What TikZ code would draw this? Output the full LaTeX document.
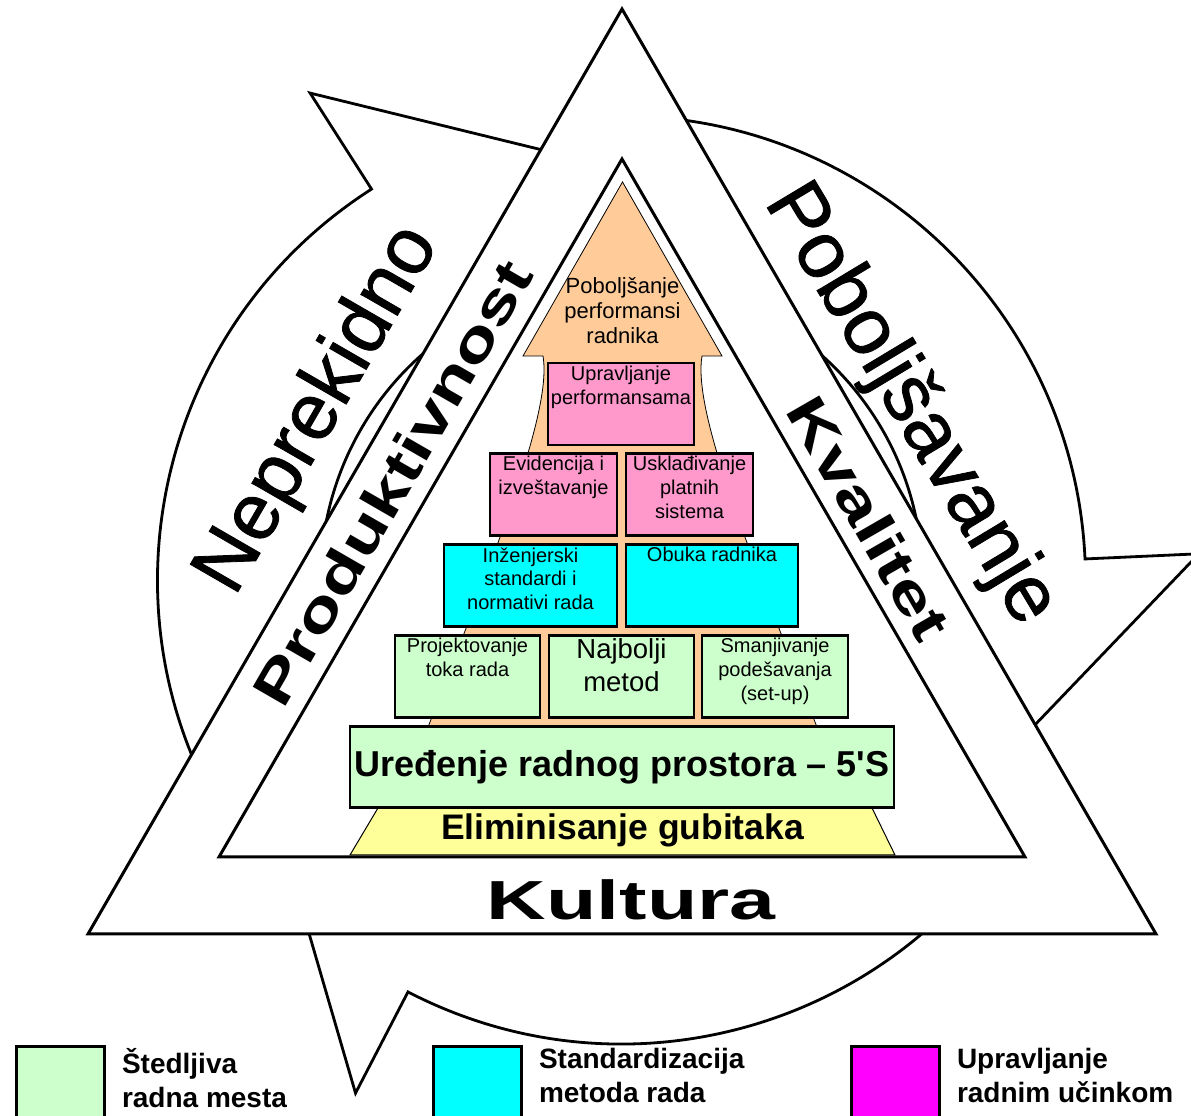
\documentclass[tikz,border=0pt]{standalone}
\usepackage{fontspec}
\setmainfont{Liberation Sans}
\newfontfamily\siroki{Liberation Sans}[FakeStretch=1.5]
\newfontfamily\srednji{Liberation Sans}[FakeStretch=1.36]
\newfontfamily\debeli{Liberation Sans}[FakeBold=1]
\usepackage{tikz}
\usetikzlibrary{positioning,calc}
\definecolor{zelena}{HTML}{CCFFCC}
\definecolor{cijan}{HTML}{00FFFF}
\definecolor{roze}{HTML}{FF99CC}
\definecolor{ljubicasta}{HTML}{FF00FF}
\definecolor{narandz}{HTML}{FFCC99}
\definecolor{zuta}{HTML}{FFFF99}
\tikzstyle{prsten}=[draw, fill=white, line width=2.8pt, line join=miter]
\tikzstyle{trougao}=[draw, fill=white, line width=3pt, line join=miter]
\tikzstyle{blok}=[draw, line width=2.6pt, outer sep=0pt, inner xsep=2pt, inner ysep=3pt,
font=\fontsize{20}{23.7}\selectfont]
\tikzstyle{zeleni}=[blok, fill=zelena]
\tikzstyle{plavi}=[blok, fill=cijan]
\tikzstyle{rozi}=[blok, fill=roze]
\tikzstyle{natpis}=[inner sep=0pt, font=\srednji\bfseries\fontsize{55}{55}\selectfont]
\tikzstyle{krupno}=[inner sep=0pt, font=\debeli\fontsize{80}{80}\selectfont]
\tikzstyle{legkutija}=[draw, line width=3pt, outer sep=0pt, minimum width=88pt,
minimum height=100pt, anchor=north west]
\tikzstyle{legtekst}=[inner sep=0pt, outer sep=0pt, anchor=north west, align=left,
font=\bfseries\fontsize{28}{34}\selectfont]
\newcommand{\kutija}[4]{node (#1)[#2]{\parbox[c][76pt][t]{#3}{\centering #4}}}
% one part of the circular arrow, head at angle #1
\newcommand{\strelica}[1]{%
	\draw[prsten] (#1+90:301) -- (#1+90:464)
	arc[start angle=#1+90, end angle=#1, radius=464]
	-- (#1:578) -- (#1-42:400) -- (#1:190) -- (#1:301)
	arc[start angle=#1, end angle=#1+90, radius=301] -- cycle;}
\begin{document}
\begin{tikzpicture}[x=1pt, y=1pt]
		\useasboundingbox (0,0) rectangle (1191,1116);
		
		% Circular arrow behind the triangle
		\begin{scope}[shift={(621.5,536)}]
			\strelica{122.6}
			\strelica{2.6}
			\strelica{-117.4}
		\end{scope}
		
		% Triangles
		\coordinate (A1) at (622,1107);
		\coordinate (B1) at (88,182);
		\coordinate (C1) at (1156,182);
		\draw[trougao] (A1) -- (B1) -- (C1) -- cycle;
		\coordinate (A2) at (622,957);
		\coordinate (B2) at (219,259);
		\coordinate (C2) at (1025,259);
		\draw[trougao] (A2) -- (B2) -- (C2) -- cycle;
		
		% Labels on the ring and on the triangle
		\node[krupno, rotate=60] (nepr) at (319,706) {Neprekidno};
		\node[krupno, rotate=-59] (pobo) at (910,711) {Poboljšavanje};
		\node[natpis, rotate=60] (prod) at (392,633) {Produktivnost};
		\node[natpis, rotate=-60] (kval) at (869,598) {Kvalitet};
		\node[inner sep=0pt, font=\siroki\bfseries\fontsize{55}{55}\selectfont] (kult) at (631,216) {Kultura};
		
		% Orange arrow
		\draw[fill=narandz, line width=0.8pt] (622.5,934) -- (722,760) -- (702,760)
		.. controls (693,706) and (745,576) .. (820,381) -- (820,350) -- (425,350) -- (425,381)
		.. controls (500,576) and (552,706) .. (543,760) -- (523,760) -- cycle;
		\node[align=center, inner sep=0pt, font=\fontsize{22}{25}\selectfont] (vrh) at (622.5,805)
		{Poboljšanje\\performansi\\radnika};
		
		% Boxes
		\path (621,712) \kutija{upr}{rozi}{142pt}{Upravljanje\\performansama};
		\path (upr.south)+(-67.5,-49.5) \kutija{evi}{rozi}{123pt}{Evidencija i\\izveštavanje};
		\path (upr.south)+(68.5,-49.5) \kutija{usk}{rozi}{123pt}{Usklađivanje\\platnih\\sistema};
		\path (evi.south)+(-23,-50) \kutija{inz}{plavi}{169pt}{Inženjerski\\standardi i\\normativi rada};
		\path (usk.south)+(22.5,-50) \kutija{obu}{plavi}{168pt}{Obuka radnika};
		\path (inz.south)+(-63,-50) \kutija{pro}{zeleni}{141pt}{Projektovanje\\toka rada};
		\path (inz.south)+(91,-50) \kutija{naj}{zeleni, font=\fontsize{27.5}{33.3}\selectfont}{141pt}{Najbolji\\metod};
		\path (obu.south)+(63,-50) \kutija{sma}{zeleni}{142pt}{Smanjivanje\\podešavanja\\(set-up)};
		
		% Base
		\draw[fill=zuta, line width=1pt] (350,261) -- (895,261) -- (872,308) -- (378,308) -- cycle;
		\node[inner sep=0pt, font=\bfseries\fontsize{35.5}{36}\selectfont] (eli) at (622.5,286) {Eliminisanje gubitaka};
		\path (naj.south)+(0.5,-49.5) node (ure)[zeleni, minimum width=544pt, minimum height=81pt, inner sep=0pt,
		font=\bfseries\fontsize{36}{40}\selectfont]{Uređenje radnog prostora – 5\textquotesingle S};
		
		% Legend
		\node[legkutija, fill=zelena] (leg1) at (16.5,69.5) {};
		\node[legtekst] (leg1t) at ([xshift=17.5pt,yshift=-1.5pt]leg1.north east) {Štedljiva\\radna mesta};
		\node[legkutija, fill=cijan] (leg2) at (433.5,69.5) {};
		\node[legtekst] (leg2t) at ([xshift=17.5pt,yshift=-1.5pt]leg2.north east) {Standardizacija\\metoda rada};
		\node[legkutija, fill=ljubicasta] (leg3) at (851.5,69.5) {};
		\node[legtekst] (leg3t) at ([xshift=17.5pt,yshift=-1.5pt]leg3.north east) {Upravljanje\\radnim učinkom};
		
\end{tikzpicture}
\end{document}
